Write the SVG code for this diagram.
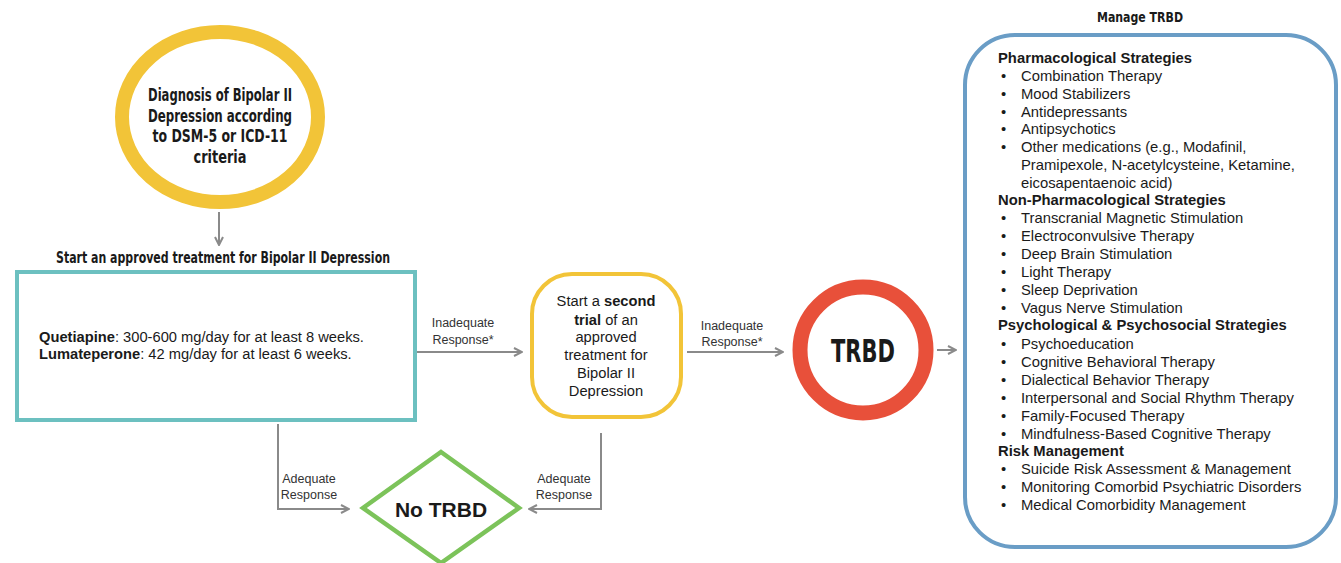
<svg xmlns="http://www.w3.org/2000/svg" width="1341" height="563" viewBox="0 0 1341 563">
<style>
.cond{font-family:"Liberation Sans Narrow","DejaVu Sans Condensed","Roboto",sans-serif;font-weight:bold;fill:#1a1a1a}
.arial{font-family:"Liberation Sans",Arial,sans-serif;fill:#1a1a1a}
.lbl{font-family:"Liberation Sans",Arial,sans-serif;font-size:12.5px;fill:#333}
.b{font-weight:bold}
.conn{fill:none;stroke:#8a8a8a;stroke-width:2}
.item{font-size:14.8px}
</style>
<defs>
<marker id="arr" viewBox="0 0 10 10" refX="9" refY="5" markerWidth="10" markerHeight="10" markerUnits="userSpaceOnUse" orient="auto">
<path d="M1,1 L9,5 L1,9" fill="none" stroke="#8a8a8a" stroke-width="2"/>
</marker>
</defs>
<rect width="1341" height="563" fill="#ffffff"/>

<g id="diagnosis">
<ellipse cx="220" cy="117" rx="98" ry="85" fill="#fff" stroke="#f2c438" stroke-width="14"/>
<g class="cond" font-size="17" text-anchor="middle">
<text x="220" y="101" textLength="144" lengthAdjust="spacingAndGlyphs">Diagnosis of Bipolar II</text>
<text x="220" y="122" textLength="144" lengthAdjust="spacingAndGlyphs">Depression according</text>
<text x="220" y="142" textLength="135" lengthAdjust="spacingAndGlyphs">to DSM-5 or ICD-11</text>
<text x="220" y="163" textLength="53" lengthAdjust="spacingAndGlyphs">criteria</text>
</g>
</g>

<g id="first-treatment">
<text class="cond" x="223" y="263" font-size="15" text-anchor="middle" textLength="334" lengthAdjust="spacingAndGlyphs">Start an approved treatment for Bipolar II Depression</text>
<rect x="17" y="272" width="398" height="148" fill="#fff" stroke="#6cc0c0" stroke-width="4"/>
<text class="arial" x="39" y="342" font-size="14.7"><tspan class="b">Quetiapine</tspan>: 300-600 mg/day for at least 8 weeks.</text>
<text class="arial" x="39" y="359" font-size="14.7"><tspan class="b">Lumateperone</tspan>: 42 mg/day for at least 6 weeks.</text>
</g>

<g id="second-trial">
<rect x="532" y="274" width="149" height="143" rx="40" ry="40" fill="#fff" stroke="#f2c438" stroke-width="4"/>
<g class="arial" font-size="14.7" text-anchor="middle">
<text x="606" y="306">Start a <tspan class="b">second</tspan></text>
<text x="606" y="325"><tspan class="b">trial</tspan> of an</text>
<text x="606" y="342">approved</text>
<text x="606" y="360">treatment for</text>
<text x="606" y="378">Bipolar II</text>
<text x="606" y="396">Depression</text>
</g>
</g>

<g id="trbd">
<circle cx="863" cy="350" r="63" fill="#fff" stroke="#e8503a" stroke-width="15"/>
<text class="cond" x="863" y="362" font-size="32" text-anchor="middle" textLength="64" lengthAdjust="spacingAndGlyphs">TRBD</text>
</g>

<g id="no-trbd">
<polygon points="441,452 519,508 441,563 363,508" fill="#fff" stroke="#7cc35a" stroke-width="4.5" stroke-linejoin="miter"/>
<text class="arial b" x="441" y="517" font-size="21" text-anchor="middle">No TRBD</text>
</g>

<g id="manage-trbd">
<text class="cond" x="1140" y="22" font-size="14.5" text-anchor="middle" textLength="86" lengthAdjust="spacingAndGlyphs">Manage TRBD</text>
<rect x="965" y="35" width="371" height="512" rx="50" ry="50" fill="#fff" stroke="#6a9dc6" stroke-width="4"/>
<g class="arial item">
<text x="998" y="63" class="b">Pharmacological Strategies</text>
<text x="1001" y="81">•</text><text x="1021" y="81">Combination Therapy</text>
<text x="1001" y="99">•</text><text x="1021" y="99">Mood Stabilizers</text>
<text x="1001" y="117">•</text><text x="1021" y="117">Antidepressants</text>
<text x="1001" y="134">•</text><text x="1021" y="134">Antipsychotics</text>
<text x="1001" y="152">•</text><text x="1021" y="152">Other medications (e.g., Modafinil,</text>
<text x="1021" y="170">Pramipexole, N-acetylcysteine, Ketamine,</text>
<text x="1021" y="188">eicosapentaenoic acid)</text>
<text x="998" y="205" class="b">Non-Pharmacological Strategies</text>
<text x="1001" y="223">•</text><text x="1021" y="223">Transcranial Magnetic Stimulation</text>
<text x="1001" y="241">•</text><text x="1021" y="241">Electroconvulsive Therapy</text>
<text x="1001" y="259">•</text><text x="1021" y="259">Deep Brain Stimulation</text>
<text x="1001" y="277">•</text><text x="1021" y="277">Light Therapy</text>
<text x="1001" y="295">•</text><text x="1021" y="295">Sleep Deprivation</text>
<text x="1001" y="313">•</text><text x="1021" y="313">Vagus Nerve Stimulation</text>
<text x="998" y="330" class="b">Psychological &amp; Psychosocial Strategies</text>
<text x="1001" y="349">•</text><text x="1021" y="349">Psychoeducation</text>
<text x="1001" y="367">•</text><text x="1021" y="367">Cognitive Behavioral Therapy</text>
<text x="1001" y="385">•</text><text x="1021" y="385">Dialectical Behavior Therapy</text>
<text x="1001" y="403">•</text><text x="1021" y="403">Interpersonal and Social Rhythm Therapy</text>
<text x="1001" y="421">•</text><text x="1021" y="421">Family-Focused Therapy</text>
<text x="1001" y="439">•</text><text x="1021" y="439">Mindfulness-Based Cognitive Therapy</text>
<text x="998" y="456" class="b">Risk Management</text>
<text x="1001" y="474">•</text><text x="1021" y="474">Suicide Risk Assessment &amp; Management</text>
<text x="1001" y="492">•</text><text x="1021" y="492">Monitoring Comorbid Psychiatric Disorders</text>
<text x="1001" y="510">•</text><text x="1021" y="510">Medical Comorbidity Management</text>
</g>
</g>

<g id="connectors">
<path class="conn" d="M219,212 L219,245" marker-end="url(#arr)"/>
<path class="conn" d="M417,352 L522,352" marker-end="url(#arr)"/>
<path class="conn" d="M687,352 L783,352" marker-end="url(#arr)"/>
<path class="conn" d="M937,350 L956,350" marker-end="url(#arr)"/>
<path class="conn" d="M278,424 L278,509 L349,509" marker-end="url(#arr)"/>
<path class="conn" d="M601,433 L601,509 L529,509" marker-end="url(#arr)"/>
<g class="lbl" text-anchor="middle">
<text x="463" y="327">Inadequate</text>
<text x="463" y="344">Response*</text>
<text x="732" y="330">Inadequate</text>
<text x="732" y="346">Response*</text>
<text x="309" y="483">Adequate</text>
<text x="309" y="499">Response</text>
<text x="564" y="483">Adequate</text>
<text x="564" y="499">Response</text>
</g>
</g>
</svg>
